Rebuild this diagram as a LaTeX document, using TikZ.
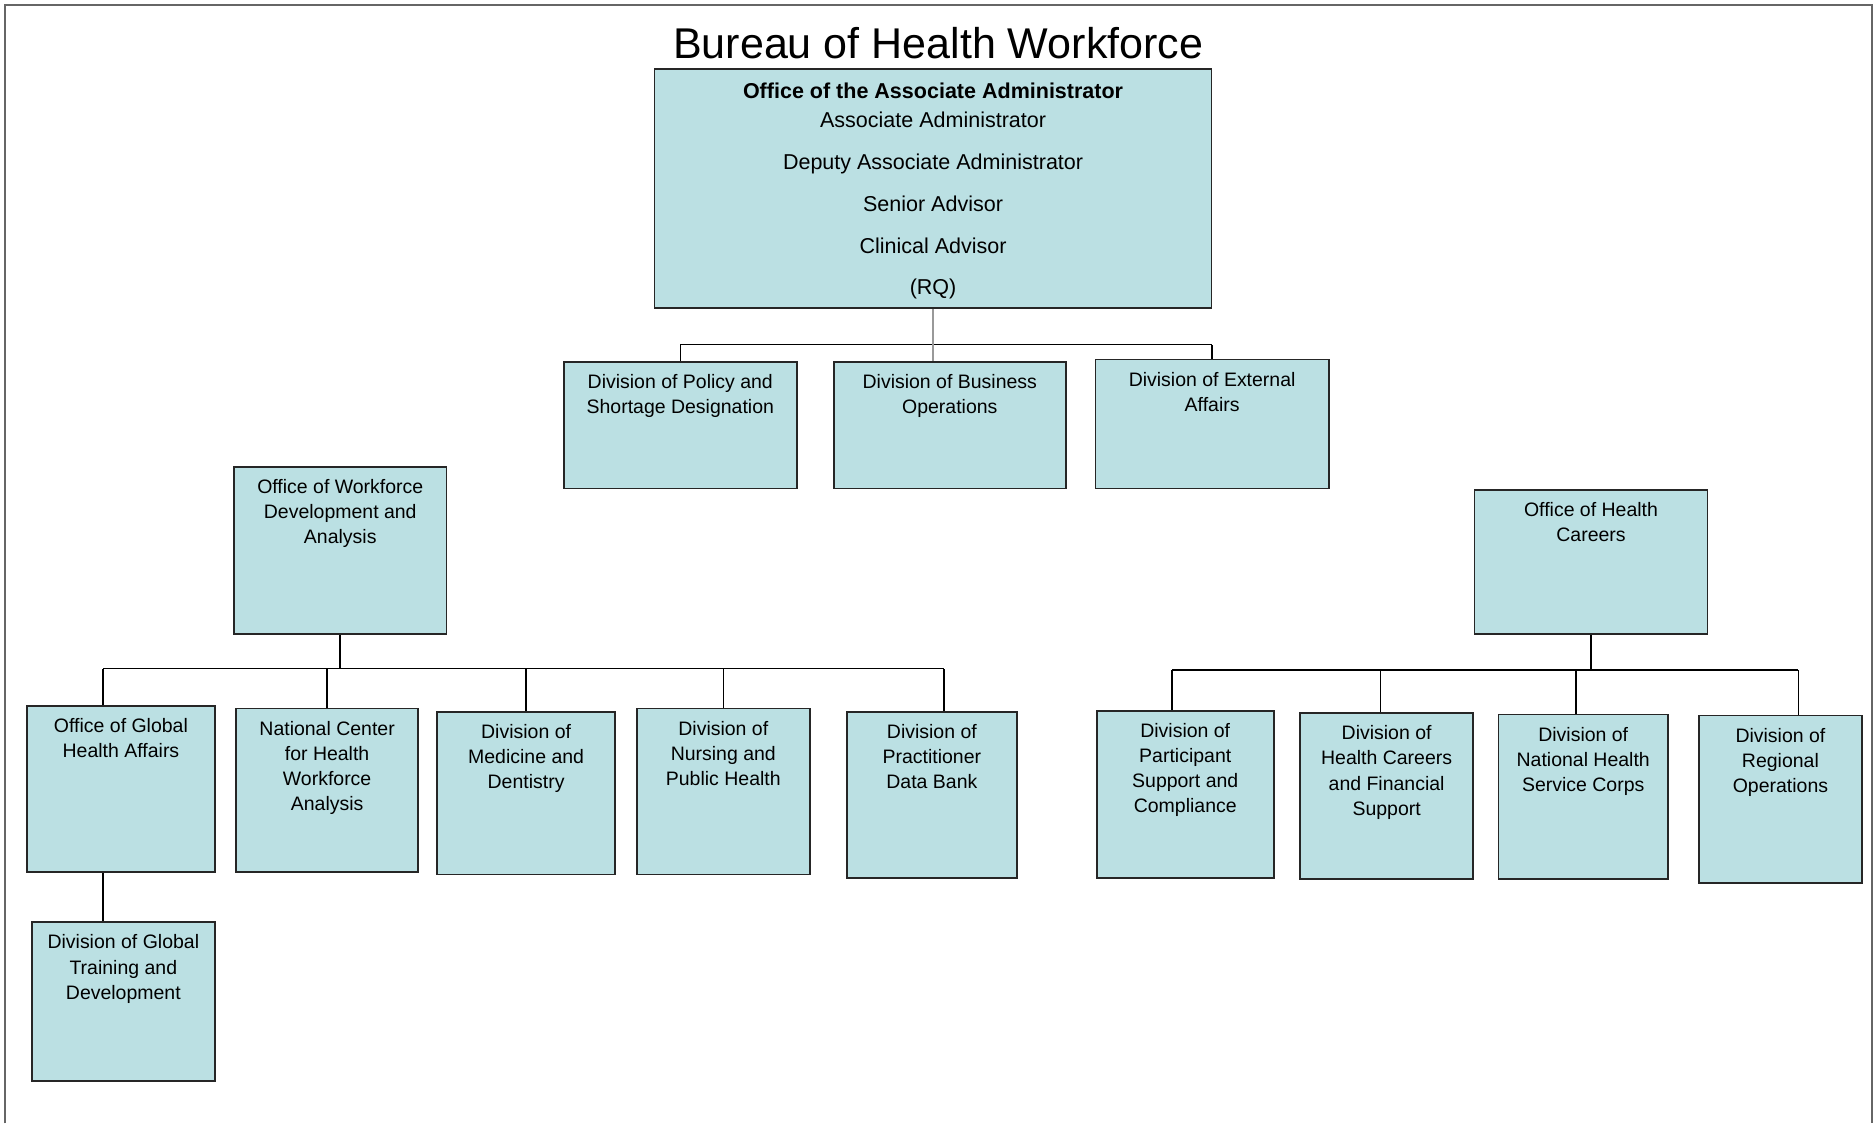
\documentclass[tikz,border=0pt]{standalone}
\usepackage{fontspec}
\setmainfont{Liberation Sans}
\usetikzlibrary{calc, positioning}

\definecolor{boxblue}{RGB}{187,224,227}

\tikzset{
  orgbox/.style={draw=black!85, fill=boxblue, line width=1.4pt, anchor=north west, inner sep=0pt},
  boxtext/.style={anchor=north, align=center, inner sep=0pt, yshift=-11pt, font=\fontsize{16.3}{21}\selectfont},
  link/.style={line width=1.3pt, black},
}

\begin{document}
\begin{tikzpicture}[x=1pt, y=-1pt]

  \useasboundingbox (0,0) rectangle (1568,940);
  \draw[black!60, line width=1.5pt] (4,940) -- (4,4) -- (1566,4) -- (1566,940);

  \node[anchor=base, inner sep=0pt, font=\fontsize{36}{40}\selectfont] (title) at (785,49) {Bureau of Health Workforce};

  % associate administrator
  \node[orgbox, minimum width=466pt, minimum height=200pt] (top) at (547,57) {};
  \node[boxtext, yshift=-1.5pt, font=\fontsize{18}{24}\selectfont] (top-txt) at (top.north)
  {\textbf{Office of the Associate Administrator}\\Associate Administrator\\[11pt]
    Deputy Associate Administrator\\[11pt]Senior Advisor\\[11pt]Clinical Advisor\\[11pt](RQ)};

  % staff divisions
  \node[orgbox, minimum width=195pt, minimum height=106pt] (policy) at (471,302) {};
  \node[boxtext] (policy-txt) at (policy.north) {Division of Policy and\\Shortage Designation};
  \node[orgbox, minimum width=194pt, minimum height=106pt] (business) at (697,302) {};
  \node[boxtext] (business-txt) at (business.north) {Division of Business\\Operations};
  \node[orgbox, minimum width=195pt, minimum height=108pt] (external) at (916,300) {};
  \node[boxtext] (external-txt) at (external.north) {Division of External\\Affairs};

  % workforce development and analysis
  \node[orgbox, minimum width=178pt, minimum height=140pt] (owda) at (195,390) {};
  \node[boxtext] (owda-txt) at (owda.north) {Office of Workforce\\Development and\\Analysis};
  \node[orgbox, minimum width=157pt, minimum height=139pt] (gha) at (22,590) {};
  \node[boxtext] (gha-txt) at (gha.north) {Office of Global\\Health Affairs};
  \node[orgbox, minimum width=152pt, minimum height=137pt] (nchwa) at (197,592) {};
  \node[boxtext] (nchwa-txt) at (nchwa.north) {National Center\\for Health\\Workforce\\Analysis};
  \node[orgbox, minimum width=149pt, minimum height=136pt] (medicine) at (365,595) {};
  \node[boxtext] (medicine-txt) at (medicine.north) {Division of\\Medicine and\\Dentistry};
  \node[orgbox, minimum width=145pt, minimum height=139pt] (nursing) at (532,592) {};
  \node[boxtext] (nursing-txt) at (nursing.north) {Division of\\Nursing and\\Public Health};
  \node[orgbox, minimum width=142pt, minimum height=139pt] (pdb) at (708,595) {};
  \node[boxtext] (pdb-txt) at (pdb.north) {Division of\\Practitioner\\Data Bank};
  \node[orgbox, minimum width=153pt, minimum height=133pt] (training) at (26,771) {};
  \node[boxtext] (training-txt) at (training.north) {Division of Global\\Training and\\Development};

  % health careers
  \node[orgbox, minimum width=195pt, minimum height=121pt] (ohc) at (1233,409) {};
  \node[boxtext] (ohc-txt) at (ohc.north) {Office of Health\\Careers};
  \node[orgbox, minimum width=148pt, minimum height=140pt] (participant) at (917,594) {};
  \node[boxtext] (participant-txt) at (participant.north) {Division of\\Participant\\Support and\\Compliance};
  \node[orgbox, minimum width=145pt, minimum height=139pt] (hcfs) at (1087,596) {};
  \node[boxtext] (hcfs-txt) at (hcfs.north) {Division of\\Health Careers\\and Financial\\Support};
  \node[orgbox, minimum width=142pt, minimum height=138pt] (nhsc) at (1253,597) {};
  \node[boxtext] (nhsc-txt) at (nhsc.north) {Division of\\National Health\\Service Corps};
  \node[orgbox, minimum width=136pt, minimum height=140pt] (regional) at (1421,598) {};
  \node[boxtext] (regional-txt) at (regional.north) {Division of\\Regional\\Operations};

  % drop points
  \coordinate (business-in) at ([xshift=-14pt]business.north);
  \coordinate (gha-in) at ([xshift=-15pt]gha.north);
  \coordinate (pdb-in) at ([xshift=10pt]pdb.north);
  \coordinate (participant-in) at ([xshift=-11pt]participant.north);
  \coordinate (hcfs-in) at ([xshift=-5pt]hcfs.north);
  \coordinate (nhsc-in) at ([xshift=-6pt]nhsc.north);
  \coordinate (regional-in) at ([xshift=15pt]regional.north);

  \coordinate (top-bus) at ($(top.south)+(0,30)$);
  \coordinate (owda-bus) at ($(owda.south)+(0,28)$);
  \coordinate (ohc-bus) at ($(ohc.south)+(0,29)$);

  % top level lines
  \draw[link] (policy.north |- top-bus) -- (external.north |- top-bus);
  \foreach \n in {policy.north, external.north}
    \draw[link] (\n) -- (\n |- top-bus);
  \draw[gray!80, line width=1.3pt] (top.south) -- (business-in);

  % workforce lines
  \draw[link] (owda.south) -- (owda-bus);
  \draw[link] (gha-in |- owda-bus) -- (pdb-in |- owda-bus);
  \foreach \n in {gha-in, nchwa.north, medicine.north, nursing.north, pdb-in}
    \draw[link] (\n) -- (\n |- owda-bus);
  \draw[link] (gha.south -| gha-in) -- (training.north -| gha-in);

  % health careers lines
  \draw[link] (ohc.south) -- (ohc-bus);
  \draw[link] (participant-in |- ohc-bus) -- (regional-in |- ohc-bus);
  \foreach \n in {participant-in, hcfs-in, nhsc-in, regional-in}
    \draw[link] (\n) -- (\n |- ohc-bus);

\end{tikzpicture}
\end{document}
